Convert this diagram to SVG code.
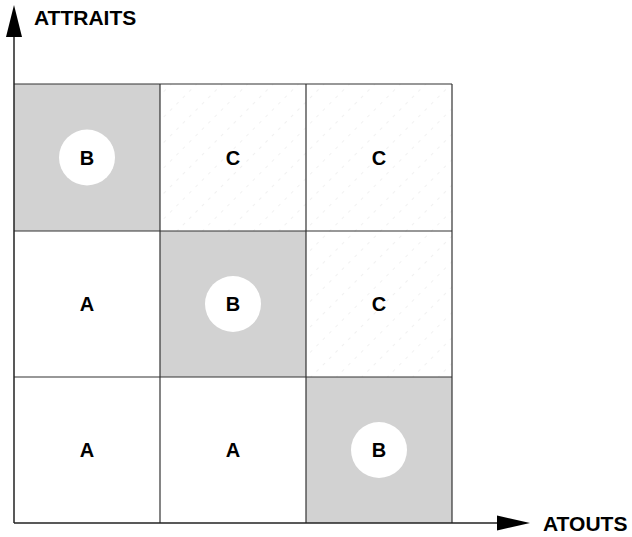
<svg xmlns="http://www.w3.org/2000/svg" width="632" height="537" viewBox="0 0 632 537">
<style>
.lbl{font-family:"Liberation Sans",Arial,sans-serif;font-weight:bold;font-size:20px;fill:#000;text-anchor:middle}
.ax{font-family:"Liberation Sans",Arial,sans-serif;font-weight:bold;font-size:21px;fill:#000}
.b{fill:#d2d2d2}
.c{fill:url(#hatch)}
.a{fill:#fff}
.grid{stroke:#333;stroke-width:1.2;fill:none}
.hole{fill:#fff}
</style>
<defs>
<pattern id="hatch" width="18" height="18" patternUnits="userSpaceOnUse" patternTransform="rotate(45)">
<rect width="18" height="18" fill="#fff"/>
<line x1="0" y1="0" x2="0" y2="18" stroke="#ddd" stroke-width="0.8" stroke-dasharray="3 6"/>
</pattern>
</defs>
<g id="cells">
<g id="r0c0"><rect class="b" x="14" y="84" width="146" height="147"/><circle class="hole" cx="87" cy="157.5" r="28"/><text class="lbl" x="87" y="165">B</text></g>
<g id="r0c1"><rect class="c" x="160" y="84" width="146" height="147"/><text class="lbl" x="233" y="165">C</text></g>
<g id="r0c2"><rect class="c" x="306" y="84" width="146" height="147"/><text class="lbl" x="379" y="165">C</text></g>
<g id="r1c0"><rect class="a" x="14" y="231" width="146" height="146"/><text class="lbl" x="87" y="311">A</text></g>
<g id="r1c1"><rect class="b" x="160" y="231" width="146" height="146"/><circle class="hole" cx="233" cy="304" r="28"/><text class="lbl" x="233" y="311">B</text></g>
<g id="r1c2"><rect class="c" x="306" y="231" width="146" height="146"/><text class="lbl" x="379" y="311">C</text></g>
<g id="r2c0"><rect class="a" x="14" y="377" width="146" height="146"/><text class="lbl" x="87" y="457">A</text></g>
<g id="r2c1"><rect class="a" x="160" y="377" width="146" height="146"/><text class="lbl" x="233" y="457">A</text></g>
<g id="r2c2"><rect class="b" x="306" y="377" width="146" height="146"/><circle class="hole" cx="379" cy="450" r="28"/><text class="lbl" x="379" y="457">B</text></g>
</g>
<g id="gridlines" class="grid">
<line x1="14" y1="84" x2="452" y2="84"/>
<line x1="14" y1="231" x2="452" y2="231"/>
<line x1="14" y1="377" x2="452" y2="377"/>
<line x1="160" y1="84" x2="160" y2="523"/>
<line x1="306" y1="84" x2="306" y2="523"/>
<line x1="452" y1="84" x2="452" y2="523"/>
</g>
<g id="axes">
<line x1="14" y1="523" x2="14" y2="36" stroke="#222" stroke-width="1.5"/>
<line x1="14" y1="523" x2="500" y2="523" stroke="#222" stroke-width="1.5"/>
<polygon points="14,5 6,37 22,37" fill="#000"/>
<polygon points="530,523 497,515.5 497,530.5" fill="#000"/>
<text class="ax" x="34" y="25">ATTRAITS</text>
<text class="ax" x="543" y="531">ATOUTS</text>
</g>
</svg>
